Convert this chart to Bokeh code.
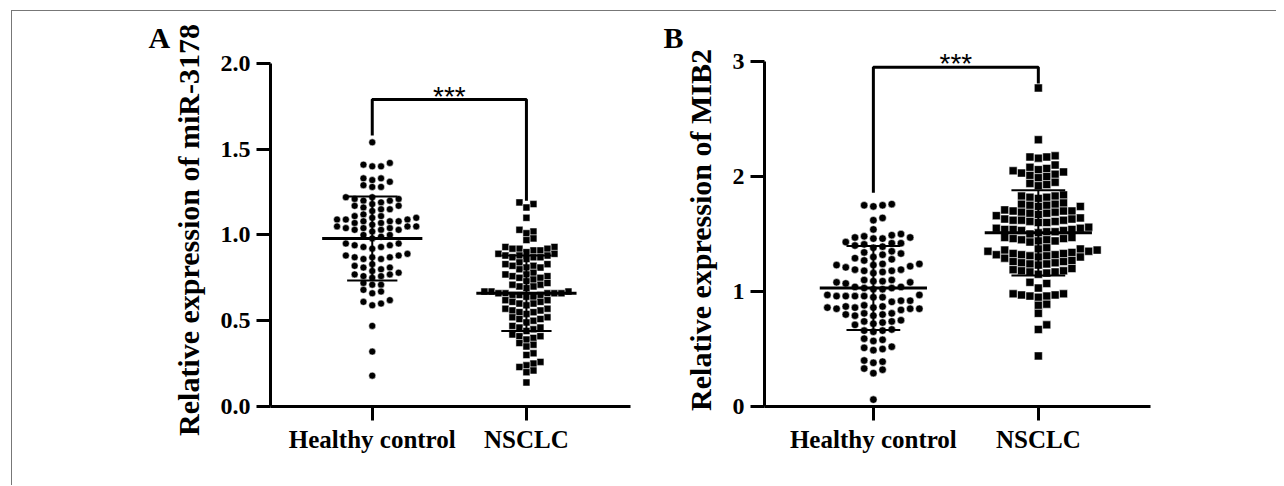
import numpy as np
from bokeh.plotting import figure
from bokeh.models import Range1d, FixedTicker, Label, NumeralTickFormatter
from bokeh.layouts import row
from bokeh.embed import file_html
from bokeh.resources import INLINE

# ---------------- data ----------------
categories = ["Healthy control", "NSCLC"]

mir_healthy = [1.54, 1.42, 1.41, 1.40, 1.40, 1.33, 1.32, 1.31, 1.33, 1.29, 1.28, 1.28,
               1.22, 1.21, 1.20, 1.22, 1.21, 1.20, 1.19, 1.17, 1.16, 1.15, 1.18, 1.17,
               1.14, 1.15, 1.12, 1.11, 1.09, 1.08, 1.08, 1.07, 1.07, 1.06, 1.08, 1.09,
               1.10, 1.09, 1.11, 1.10, 1.05, 1.04, 1.03, 1.04, 1.05, 1.03, 1.02, 1.04,
               1.03, 1.05, 1.00, 0.99, 0.98, 1.00, 0.95, 0.94, 0.93, 0.93, 0.94, 0.95,
               0.92, 0.88, 0.87, 0.87, 0.86, 0.88, 0.87, 0.86, 0.89, 0.82, 0.81, 0.80,
               0.79, 0.81, 0.83, 0.77, 0.76, 0.75, 0.76, 0.77, 0.78, 0.71, 0.72, 0.71,
               0.68, 0.67, 0.66, 0.61, 0.60, 0.62, 0.59, 0.47, 0.32, 0.18]

mir_nsclc = [1.19, 1.18, 1.16, 1.10, 1.03, 1.02, 1.01, 0.98, 0.97,
             0.93, 0.92, 0.91, 0.92, 0.93, 0.91, 0.90, 0.92,
             0.89, 0.88, 0.87, 0.88, 0.89, 0.87, 0.86, 0.88, 0.87,
             0.84, 0.83, 0.82, 0.81, 0.80, 0.82, 0.83, 0.81,
             0.78, 0.77, 0.76, 0.75, 0.76, 0.77, 0.74, 0.75, 0.73,
             0.71, 0.70, 0.72, 0.69, 0.70, 0.71,
             0.67, 0.66, 0.66, 0.65, 0.67, 0.66, 0.65, 0.64, 0.66, 0.67, 0.65, 0.66, 0.64,
             0.62, 0.61, 0.60, 0.62, 0.61, 0.60, 0.59,
             0.57, 0.56, 0.55, 0.57, 0.56, 0.54, 0.55,
             0.52, 0.51, 0.50, 0.52, 0.51, 0.49,
             0.47, 0.46, 0.45, 0.46, 0.44,
             0.42, 0.41, 0.40, 0.41, 0.39,
             0.37, 0.36, 0.35, 0.31, 0.30,
             0.26, 0.25, 0.24, 0.23, 0.21, 0.20, 0.14]

mib2_healthy = [1.75, 1.74, 1.76, 1.75, 1.64, 1.62, 1.54,
                1.50, 1.48, 1.47, 1.46, 1.49, 1.46, 1.47,
                1.43, 1.42, 1.41, 1.40, 1.42, 1.39, 1.38,
                1.35, 1.33, 1.32, 1.30, 1.34, 1.28, 1.27, 1.29,
                1.24, 1.23, 1.22, 1.24, 1.21, 1.23,
                1.19, 1.18, 1.17, 1.19, 1.16, 1.18,
                1.10, 1.09, 1.08, 1.07, 1.10, 1.09, 1.08,
                1.04, 1.03, 1.02, 1.03, 1.02, 1.04,
                0.97, 0.96, 0.96, 0.95, 0.97, 0.96, 0.95, 0.96,
                0.92, 0.91, 0.92,
                0.88, 0.87, 0.86, 0.85, 0.86, 0.87, 0.85, 0.86, 0.84, 0.85,
                0.81, 0.80, 0.79, 0.80, 0.81, 0.79,
                0.75, 0.74, 0.73, 0.72, 0.74, 0.71,
                0.66, 0.65, 0.67, 0.66, 0.59, 0.58, 0.57,
                0.52, 0.51, 0.50, 0.49, 0.40, 0.39, 0.38,
                0.33, 0.32, 0.29, 0.06]

mib2_nsclc = [2.77, 2.32, 2.18, 2.17, 2.16, 2.17, 2.10, 2.08, 2.07, 2.06,
              2.05, 2.03, 2.02, 2.01, 2.00, 1.99, 2.04, 1.95, 1.94, 1.93, 1.92,
              1.84, 1.83, 1.82, 1.81, 1.82, 1.83,
              1.77, 1.76, 1.75, 1.74, 1.76, 1.75, 1.74,
              1.71, 1.70, 1.69, 1.68, 1.67, 1.70, 1.69, 1.68, 1.66, 1.70,
              1.64, 1.63, 1.62, 1.61, 1.60, 1.63, 1.62, 1.61, 1.60, 1.62,
              1.56, 1.55, 1.54, 1.53, 1.52, 1.51, 1.55, 1.54, 1.53, 1.52, 1.50, 1.54,
              1.47, 1.46, 1.45, 1.44, 1.43, 1.46, 1.45, 1.44, 1.47,
              1.38, 1.37, 1.36, 1.35, 1.36, 1.37, 1.35, 1.34,
              1.33, 1.32, 1.31, 1.30, 1.32, 1.31, 1.30, 1.29, 1.33, 1.32,
              1.27, 1.26, 1.25, 1.24, 1.23, 1.26, 1.25, 1.24,
              1.20, 1.19, 1.18, 1.17, 1.16, 1.18, 1.17, 1.15,
              1.08, 1.07, 1.03, 0.98, 0.97, 0.96, 0.97, 0.96, 0.95, 0.98,
              0.89, 0.88, 0.81, 0.71, 0.67, 0.44]

mir_mean = [0.98, 0.66]
mir_sd = [0.245, 0.22]
mib2_mean = [1.03, 1.51]
mib2_sd = [0.365, 0.37]

mir_ticks = [0.0, 0.5, 1.0, 1.5, 2.0]
mib2_ticks = [0, 1, 2, 3]

mir_bracket = [1.58, 1.79, 1.20]    # left foot, top, right foot
mib2_bracket = [1.86, 2.95, 2.81]
sig_text = "***"

SERIF = "Liberation Serif"
H = 474
MB_TOP = 42
MB_BOTTOM = 79


def swarm_offsets(vals, y_scale, x_scale, step, dy_min):
    ypix = np.asarray(vals, float) * y_scale
    order = np.argsort(ypix, kind="stable")
    cands = [0.0]
    for k in range(1, 80):
        cands += [k * step / 2.0, -k * step / 2.0]
    py, px = [], []
    offs = np.zeros(len(ypix))
    for i in order:
        y = ypix[i]
        chosen = 0.0
        for c in cands:
            ok = True
            for a, b in zip(py, px):
                if abs(y - a) < dy_min and abs(c - b) < step * 0.999:
                    ok = False
                    break
            if ok:
                chosen = c
                break
        py.append(y)
        px.append(chosen)
        offs[i] = chosen
    return offs / x_scale


def make_panel(width, mb_left, mb_right, xr, yr, axis_top, ticks, fmt,
               groups, mean, sd, bracket, ylabel, letter, letter_offset,
               sig_y, step, dy_min, sizes):
    fw = width - mb_left - mb_right
    fh = H - MB_TOP - MB_BOTTOM
    x_scale = fw / (xr[1] - xr[0])
    y_scale = fh / (yr[1] - yr[0])
    p = figure(width=width, height=H, x_range=Range1d(*xr), y_range=Range1d(*yr),
               output_backend="svg", toolbar_location=None,
               min_border_left=mb_left, min_border_right=mb_right,
               min_border_top=MB_TOP, min_border_bottom=MB_BOTTOM,
               outline_line_color=None, background_fill_color="white",
               border_fill_color="white", title=letter)
    p.grid.visible = False
    p.title.align = "left"
    p.title.offset = letter_offset
    p.title.standoff = 0
    p.title.text_font = SERIF
    p.title.text_font_style = "bold"
    p.title.text_font_size = "30px"
    p.title.text_color = "black"

    for ax in (p.xaxis[0], p.yaxis[0]):
        ax.axis_line_width = 3
        ax.axis_line_color = "black"
        ax.major_tick_line_width = 3
        ax.major_tick_line_color = "black"
        ax.major_tick_out = 14
        ax.major_tick_in = 0
        ax.minor_tick_line_color = None
        ax.major_label_text_font = SERIF
        ax.major_label_text_font_style = "bold"
        ax.major_label_text_color = "black"

    p.xaxis.ticker = FixedTicker(ticks=[0, 1])
    p.xaxis.major_label_overrides = {0: categories[0], 1: categories[1]}
    p.xaxis.major_label_text_font_size = "25px"
    p.xaxis.major_label_standoff = 5

    p.yaxis.bounds = (yr[0], axis_top)
    p.yaxis.ticker = FixedTicker(ticks=ticks)
    p.yaxis.formatter = NumeralTickFormatter(format=fmt)
    p.yaxis.major_label_text_font_size = "24px"
    p.yaxis.major_label_standoff = 6
    p.yaxis.axis_label = ylabel
    p.yaxis.axis_label_text_font = SERIF
    p.yaxis.axis_label_text_font_style = "bold"
    p.yaxis.axis_label_text_font_size = "30px"
    p.yaxis.axis_label_text_color = "black"
    p.yaxis.axis_label_standoff = 13

    markers = ["circle", "square"]
    for gi, vals in enumerate(groups):
        offs = swarm_offsets(vals, y_scale, x_scale, step[gi], dy_min[gi])
        p.scatter(x=gi + offs, y=vals, marker=markers[gi], size=sizes[gi],
                  fill_color="black", line_color="white", line_width=0.5)

    cats = np.arange(len(groups), dtype=float)
    m = np.array(mean)
    s = np.array(sd)
    p.segment(x0=cats - 0.325, x1=cats + 0.325, y0=m, y1=m,
              line_color="black", line_width=3)
    p.segment(x0=cats - 0.163, x1=cats + 0.163, y0=m + s, y1=m + s,
              line_color="black", line_width=2)
    p.segment(x0=cats - 0.163, x1=cats + 0.163, y0=m - s, y1=m - s,
              line_color="black", line_width=2)
    p.segment(x0=cats, x1=cats, y0=m - s, y1=m + s,
              line_color="black", line_width=2)

    p.line(x=[0, 0, 1, 1], y=[bracket[0], bracket[1], bracket[1], bracket[2]],
           line_color="black", line_width=3)
    p.add_layout(Label(x=0.5, y=sig_y, text=sig_text, text_align="center",
                       text_baseline="alphabetic", text_font="Liberation Sans",
                       text_font_size="28px", text_color="black"))
    return p


pA = make_panel(632, 258, 14, (-0.66, 1.675), (0.0, 2.058), 2.0, mir_ticks, "0.0",
                [mir_healthy, mir_nsclc], mir_mean, mir_sd, mir_bracket,
                "Relative expression of miR-3178", "A", -122,
                1.805, [8.8, 7.0], [6.5, 6.0], [7, 7])
pB = make_panel(632, 120, 126, (-0.66, 1.68), (0.0, 3.07), 3.0, mib2_ticks, "0",
                [mib2_healthy, mib2_nsclc], mib2_mean, mib2_sd, mib2_bracket,
                "Relative expression of MIB2", "B", -101,
                2.983, [9.2, 8.4], [7.5, 7.5], [7.5, 8])

layout = row(pA, pB, margin=(10, 0, 0, 11),
             styles={"border-top": "1px solid #777", "border-left": "1px solid #777"})

open("out.html", "w").write(file_html(layout, INLINE))
